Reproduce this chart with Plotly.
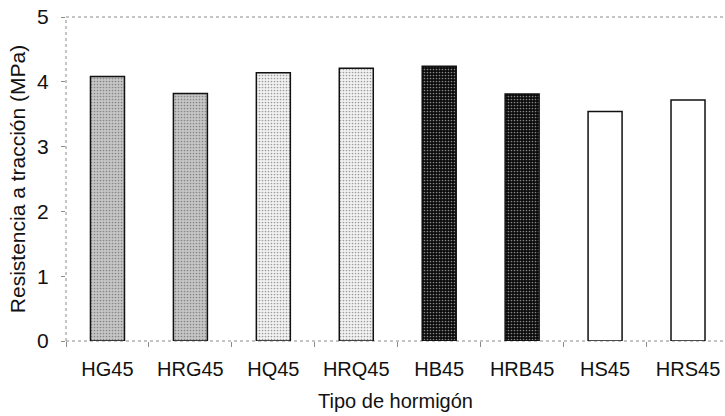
import plotly.graph_objects as go

categories = ["HG45", "HRG45", "HQ45", "HRQ45", "HB45", "HRB45", "HS45", "HRS45"]
values = [4.08, 3.82, 4.14, 4.21, 4.24, 3.81, 3.54, 3.72]
bg_colors = ["#c6c6c6", "#c6c6c6", "#f2f2f2", "#f2f2f2", "#0a0a0a", "#0a0a0a", "#ffffff", "#ffffff"]
fg_colors = ["#8c8c8c", "#8c8c8c", "#c8c8c8", "#c8c8c8", "#5a5a5a", "#5a5a5a", "#ffffff", "#ffffff"]
patterns = [".", ".", ".", ".", ".", ".", "", ""]

fig = go.Figure()
fig.add_trace(go.Bar(
    x=categories, y=values,
    marker=dict(
        color=bg_colors,
        line=dict(color="#111111", width=1.5),
        pattern=dict(shape=patterns, fgcolor=fg_colors, bgcolor=bg_colors, size=3, solidity=0.25),
    ),
    width=0.41,
))

font = "Liberation Sans, Arial, sans-serif"
frame = dict(type="line", xref="paper", yref="paper",
             line=dict(color="#8a8a8a", width=1, dash="dot"), layer="below")
fig.add_shape(x0=0, x1=0, y0=0, y1=1, **frame)
fig.add_shape(x0=0, x1=1, y0=1, y1=1, **frame)
fig.add_shape(x0=0, x1=1, y0=0, y1=0, **frame)

fig.update_layout(
    width=725, height=416,
    margin=dict(l=66, r=0, t=17, b=75),
    plot_bgcolor="white", paper_bgcolor="white",
    showlegend=False,
    font=dict(family=font, size=20, color="#111111"),
)
fig.update_xaxes(
    range=[-0.5, 7.446],
    showline=False,
    ticks="outside", ticklen=5, tickcolor="#8a8a8a", tickson="boundaries",
    ticklabelstandoff=14,
    title=dict(text="Tipo de hormigón", font=dict(size=20), standoff=14),
    tickfont=dict(size=20), showgrid=False,
)
fig.update_yaxes(
    range=[0, 5], dtick=1,
    showline=False,
    ticks="outside", ticklen=4, tickcolor="#8a8a8a",
    ticklabelstandoff=8,
    title=dict(text="Resistencia a tracción (MPa)", font=dict(size=21), standoff=5),
    tickfont=dict(size=21), showgrid=False, zeroline=False,
)
fig.write_html(
    "out.html",
    config={"displayModeBar": False},
    post_script="document.body.style.margin='0';document.body.style.overflow='hidden';",
)
